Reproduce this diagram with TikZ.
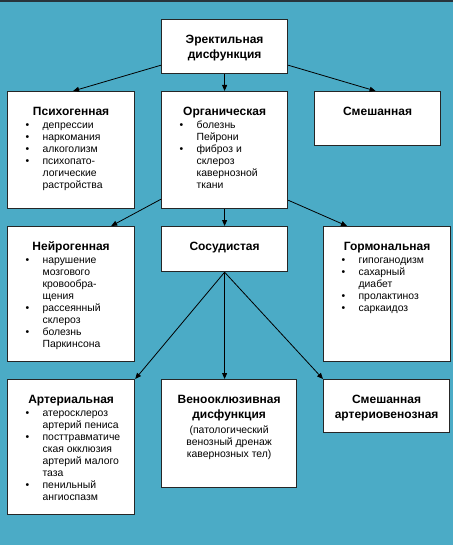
\documentclass[tikz,border=0pt]{standalone}
\usepackage{fontspec}
\setmainfont{Liberation Sans}
\usetikzlibrary{arrows.meta,calc}
\definecolor{sea}{RGB}{75,171,198}
\definecolor{edge}{RGB}{38,38,38}
\definecolor{topbar}{RGB}{40,52,60}
\newcommand\hd{\fontsize{9}{10.9}\selectfont\bfseries}
\newcommand\bd{\normalfont\fontsize{7.8}{9}\selectfont}
\newcommand\cell[4]{\parbox[t][#2][t]{#1}{\centering\hd\rule{0pt}{18pt}#3\par\bd\raggedright\vspace{0.75pt}#4}}
\newcommand\itm[1]{\par\noindent\hangindent=26.25pt\hspace*{13.5pt}\makebox[12.75pt][l]{\textbullet}{\let\\\newline#1}\par}
\tikzset{
  blk/.style={draw=edge, line width=0.9pt, fill=white, inner sep=0pt, anchor=north west},
  arr/.style={-{Triangle[length=4.5pt,width=3.75pt]}, line width=0.6pt, draw=black}
}
\begin{document}
\begin{tikzpicture}[x=0.75pt,y=0.75pt,yscale=-1,xscale=1]
  \fill[sea] (0,0) rectangle (453,545);
  \fill[topbar] (0,0) rectangle (453,2);
  \useasboundingbox (0,0) rectangle (453,545);

  \node[blk] (er) at (161,19) {\cell{94.5pt}{40.5pt}{Эректильная\\дисфункция}{}};
  \node[blk] (psy) at (7,91) {\cell{95.25pt}{87.75pt}{Психогенная}{%
    \itm{депрессии}\itm{наркомания}\itm{алкоголизм}\itm{психопато-\\логические\\растройства}}};
  \node[blk] (org) at (161,91) {\cell{94.5pt}{87.75pt}{Органическая}{%
    \itm{болезнь\\Пейрони}\itm{фиброз и\\склероз\\кавернозной\\ткани}}};
  \node[blk] (mix) at (314,91) {\cell{94.5pt}{40.5pt}{Смешанная}{}};
  \node[blk] (neu) at (7,226) {\cell{95.25pt}{101.25pt}{Нейрогенная}{%
    \itm{нарушение\\мозгового\\кровообра-\\щения}\itm{рассеянный\\склероз}\itm{болезнь\\Паркинсона}}};
  \node[blk] (vas) at (161,226) {\cell{94.5pt}{33.75pt}{Сосудистая}{}};
  \node[blk] (hor) at (323,226) {\cell{95.25pt}{101.25pt}{Гормональная}{%
    \itm{гипоганодизм}\itm{сахарный\\диабет}\itm{пролактиноз}\itm{саркаидоз}}};
  \node[blk] (art) at (7,379) {\cell{95.25pt}{101.25pt}{Артериальная}{%
    \itm{атеросклероз\\артерий пениса}\itm{посттравматиче\\ская окклюзия\\артерий малого\\таза}\itm{пенильный\\ангиоспазм}}};
  \node[blk] (ven) at (161,379) {\cell{101.25pt}{81pt}{Венооклюзивная\\дисфункция}{%
    \vspace{1.5pt}\centering(патологический\\венозный дренаж\\кавернозных тел)\par}};
  \node[blk] (mav) at (323,379) {\cell{94.5pt}{39.75pt}{Смешанная\\артериовенозная}{}};

  \draw[arr] ($(er.south west)+(0,-9)$) -- ($(psy.north)+(2,0)$);
  \draw[arr] (er.south) -- (org.north);
  \draw[arr] ($(er.south east)+(0,-9)$) -- ($(mix.north)+(-2,0)$);
  \draw[arr] ($(org.south west)+(0,-10)$) -- ($(neu.north east)+(-24,0)$);
  \draw[arr] (org.south) -- (vas.north);
  \draw[arr] ($(org.south east)+(0,-9)$) -- ($(hor.north west)+(24,0)$);
  \draw[arr] (vas.south) -- (art.north east);
  \draw[arr] (vas.south) -- (vas.south |- ven.north);
  \draw[arr] (vas.south) -- (mav.north west);
\end{tikzpicture}
\end{document}
